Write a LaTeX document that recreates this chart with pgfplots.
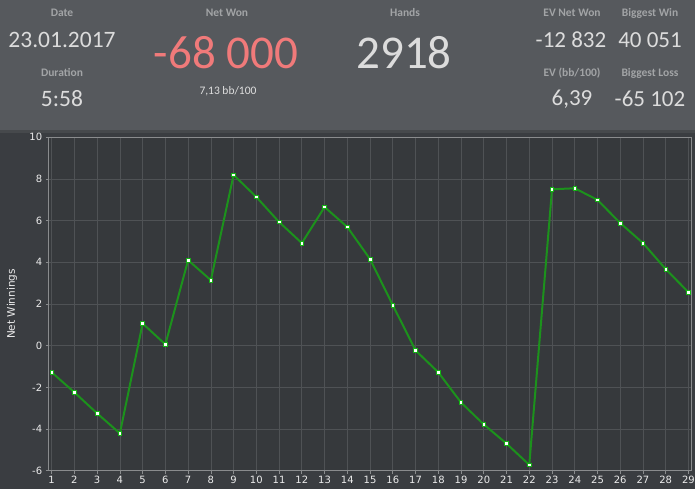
\documentclass[border=0pt]{standalone}
\usepackage{pgfplots}
\pgfplotsset{compat=1.18}
\usepackage{fontspec}
\setmainfont{Carlito}
\newfontfamily\tickfont{DejaVu Sans}
\definecolor{hdrbg}{HTML}{56595D}
\definecolor{sep}{HTML}{46494C}
\definecolor{chartbg}{HTML}{3A3D41}
\definecolor{plotbg}{HTML}{36393C}
\definecolor{gridc}{HTML}{4F5255}
\definecolor{framec}{HTML}{8A8C8E}
\definecolor{lblgray}{HTML}{A2A4A6}
\definecolor{valc}{HTML}{DCDCDC}
\definecolor{redc}{HTML}{F07A7A}
\definecolor{linec}{HTML}{1C921C}
\pgfplotstableread{
x y
1 -1.28
2 -2.24
3 -3.25
4 -4.21
5 1.06
6 0.06
7 4.10
8 3.14
9 8.19
10 7.13
11 5.93
12 4.92
13 6.65
14 5.69
15 4.15
16 1.94
17 -0.23
18 -1.28
19 -2.73
20 -3.78
21 -4.70
22 -5.72
23 7.50
24 7.55
25 6.99
26 5.88
27 4.92
28 3.67
29 2.56
}\datatable
\begin{document}
\begin{tikzpicture}[x=1pt,y=1pt]
\useasboundingbox (0,0) rectangle (695,489);
\fill[chartbg] (0,0) rectangle (695,489);
\fill[hdrbg] (0,489-130.5) rectangle (695,489);
\fill[sep] (0,489-133) rectangle (695,489-130.5);
% header
\tikzset{lbl/.style={text=lblgray,font=\fontsize{11.5}{12}\selectfont\bfseries,inner sep=0pt,anchor=center}}
\node[lbl] at (62,489-13) {Date};
\node[text=valc,font=\fontsize{23.5}{26}\selectfont,inner sep=0pt] at (62,489-40) {23.01.2017};
\node[lbl] at (62,489-73) {Duration};
\node[text=valc,font=\fontsize{23.5}{26}\selectfont,inner sep=0pt] at (62,489-99) {5:58};
\node[lbl] at (227,489-13) {Net Won};
\node[text=redc,font=\fontsize{47}{50}\selectfont,inner sep=0pt] at (226,489-53) {-68 000};
\node[text=valc!90,font=\fontsize{11.5}{12}\selectfont,inner sep=0pt] at (228,489-91) {7,13 bb/100};
\node[lbl] at (405,489-13) {Hands};
\node[text=valc,font=\fontsize{47}{50}\selectfont,inner sep=0pt] at (404,489-53) {2918};
\node[lbl] at (572,489-13) {EV Net Won};
\node[text=valc,font=\fontsize{23}{26}\selectfont,inner sep=0pt] at (571,489-40) {-12 832};
\node[lbl] at (650,489-13) {Biggest Win};
\node[text=valc,font=\fontsize{23}{26}\selectfont,inner sep=0pt] at (650,489-40) {40 051};
\node[lbl] at (572,489-73) {EV (bb/100)};
\node[text=valc,font=\fontsize{23}{26}\selectfont,inner sep=0pt] at (572,489-99) {6,39};
\node[lbl] at (650,489-73) {Biggest Loss};
\node[text=valc,font=\fontsize{23}{26}\selectfont,inner sep=0pt] at (650,489-99) {-65 102};
\begin{axis}[
  at={(48.7pt,18.3pt)}, anchor=south west,
  scale only axis, width=642.5pt, height=333.5pt,
  xmin=0.87, xmax=29.12, ymin=-6, ymax=10,
  xtick={1,...,29}, ytick={-6,-4,...,10},
  /pgf/number format/assume math mode=true,
  axis background/.style={fill=plotbg},
  axis line style={draw=framec, line width=0.9pt},
  grid=major, major grid style={draw=gridc, line width=0.7pt},
  tick style={draw=framec, line width=0.7pt},
  tick align=outside, major tick length=3pt,
  xtick pos=bottom, ytick pos=left,
  tick label style={font=\tickfont\fontsize{10}{11}\selectfont, text=white!92!black},
  xticklabel style={yshift=1pt},
  ylabel={Net Winnings},
  ylabel style={at={(axis description cs:-0.057,0.5)}, anchor=center, font=\tickfont\fontsize{10.5}{11}\selectfont, text=white!92!black},
  clip=false,
]
\addplot[color=linec, line width=2pt, mark=square*, mark size=1.8pt,
  mark options={fill=white, draw=linec!70!green, line width=0.7pt}] table[x=x,y=y] {\datatable};
\end{axis}
\end{tikzpicture}
\end{document}
